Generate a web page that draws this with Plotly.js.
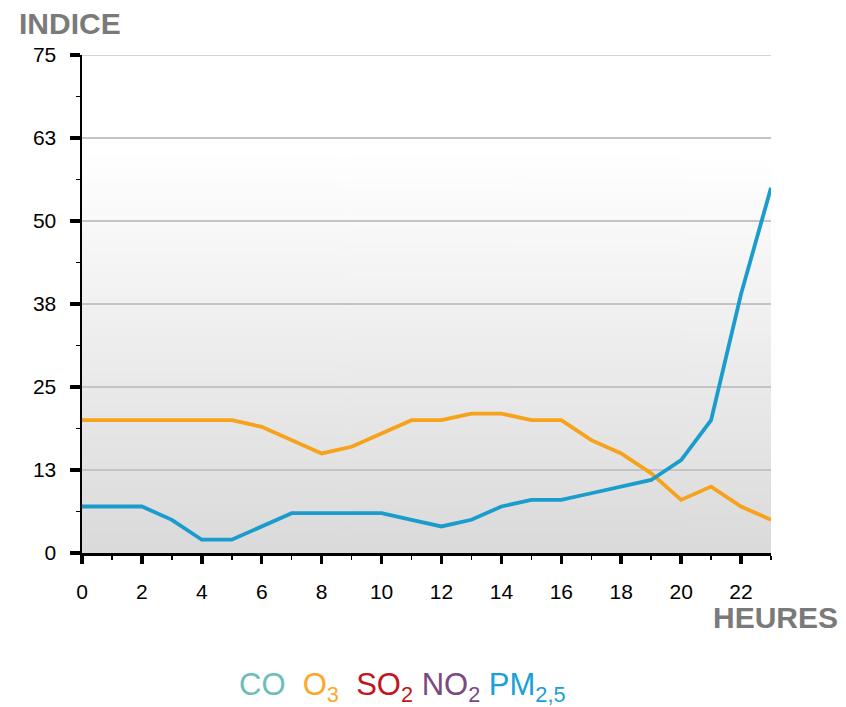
<!DOCTYPE html>
<html>
<head>
<meta charset="utf-8">
<script src="https://cdn.plot.ly/plotly-3.0.1.min.js"></script>
<style>html,body{margin:0;padding:0;background:#fff;}#chart{width:846px;height:707px;}</style>
</head>
<body>
<div id="chart"></div>
<script>
const hours = [0,1,2,3,4,5,6,7,8,9,10,11,12,13,14,15,16,17,18,19,20,21,22,23];
const o3 = [20,20,20,20,20,20,19,17,15,16,18,20,20,21,21,20,20,17,15,12,8,10,7,5];
const pm25 = [7,7,7,5,2,2,4,6,6,6,6,5,4,5,7,8,8,9,10,11,14,20,39,55];
const yTickVals = [0,12.5,25,37.5,50,62.5,75];
const yTickText = ["0","13","25","38","50","63","75"];
const xTickVals = [0,2,4,6,8,10,12,14,16,18,20,22];
const xTickText = ["0","2","4","6","8","10","12","14","16","18","20","22"];

// background gradient image
const cv = document.createElement('canvas');
cv.width = 4; cv.height = 256;
const ctx = cv.getContext('2d');
const g = ctx.createLinearGradient(0,0,0,256);
g.addColorStop(0,'#ffffff');
g.addColorStop(0.2,'#ffffff');
g.addColorStop(1,'#dadada');
ctx.fillStyle = g; ctx.fillRect(0,0,4,256);
const bg = cv.toDataURL();

const FONT = 'Liberation Sans, Arial, sans-serif';
const traces = [
  {x: hours, y: o3, type:'scatter', mode:'lines', line:{color:'#f7a21b', width:3.8}, hoverinfo:'skip'},
  {x: hours, y: pm25, type:'scatter', mode:'lines', line:{color:'#1a9ccc', width:3.8}, hoverinfo:'skip'}
];
const layout = {
  width:846, height:707,
  margin:{l:82, r:75, t:55, b:154},
  paper_bgcolor:'#ffffff', plot_bgcolor:'rgba(0,0,0,0)',
  showlegend:false,
  font:{family:FONT, color:'#000'},
  images:[{source:bg, xref:'paper', yref:'paper', x:0, y:1, sizex:1, sizey:1, sizing:'stretch', layer:'below', xanchor:'left', yanchor:'top'}],
  shapes:[{type:'line', xref:'paper', yref:'y', x0:0, x1:1, y0:75, y1:75, line:{color:'#c4c4c4', width:1.5}, layer:'below'}],
  xaxis:{range:[0,23], tickmode:'array', tickvals:xTickVals, ticktext:xTickText,
    ticks:'outside', ticklen:8, tickwidth:3.5, tickcolor:'#000',
    minor:{dtick:1, tick0:0, ticks:'outside', ticklen:4, tickwidth:1.5, tickcolor:'#000', showgrid:false},
    showline:true, linecolor:'#000', linewidth:2.5, showgrid:false, zeroline:false,
    tickfont:{size:21, family:FONT, color:'#000'}, ticklabelstandoff:10, fixedrange:true},
  yaxis:{range:[0,75], tickmode:'array', tickvals:yTickVals, ticktext:yTickText,
    ticks:'outside', ticklen:10, tickwidth:3.5, tickcolor:'#000',
    minor:{tickvals:[6.25,18.75,31.25,43.75,56.25,68.75], ticks:'outside', ticklen:4, tickwidth:1.5, tickcolor:'#000', showgrid:false},
    showline:true, linecolor:'#000', linewidth:2.5, showgrid:true, gridcolor:'#c4c4c4', gridwidth:1.5, zeroline:false,
    tickfont:{size:21, family:FONT, color:'#000'}, ticklabelstandoff:9, fixedrange:true},
  annotations:[
    {text:'<b>INDICE</b>', xref:'paper', yref:'paper', x:-0.0943, y:1.064, xanchor:'left', yanchor:'middle', showarrow:false, font:{size:30, family:FONT, color:'#7a7a7a'}},
    {text:'<b>HEURES</b>', xref:'paper', yref:'paper', x:1.100, y:-0.13, xanchor:'right', yanchor:'middle', showarrow:false, font:{size:30, family:FONT, color:'#7a7a7a'}},
    {text:'<span style="color:#6dbdb9">CO</span>  <span style="color:#fca82a">O<sub>3</sub></span>  <span style="color:#c0171f">SO<sub>2</sub></span> <span style="color:#7a4a80">NO<sub>2</sub></span> <span style="color:#1a9fd8">PM<sub>2,5</sub></span>',
     xref:'paper', yref:'paper', x:0.4644, y:-0.27, xanchor:'center', yanchor:'middle', showarrow:false, font:{size:31, family:FONT}}
  ]
};
Plotly.newPlot('chart', traces, layout, {displayModeBar:false, staticPlot:true});
</script>
</body>
</html>
